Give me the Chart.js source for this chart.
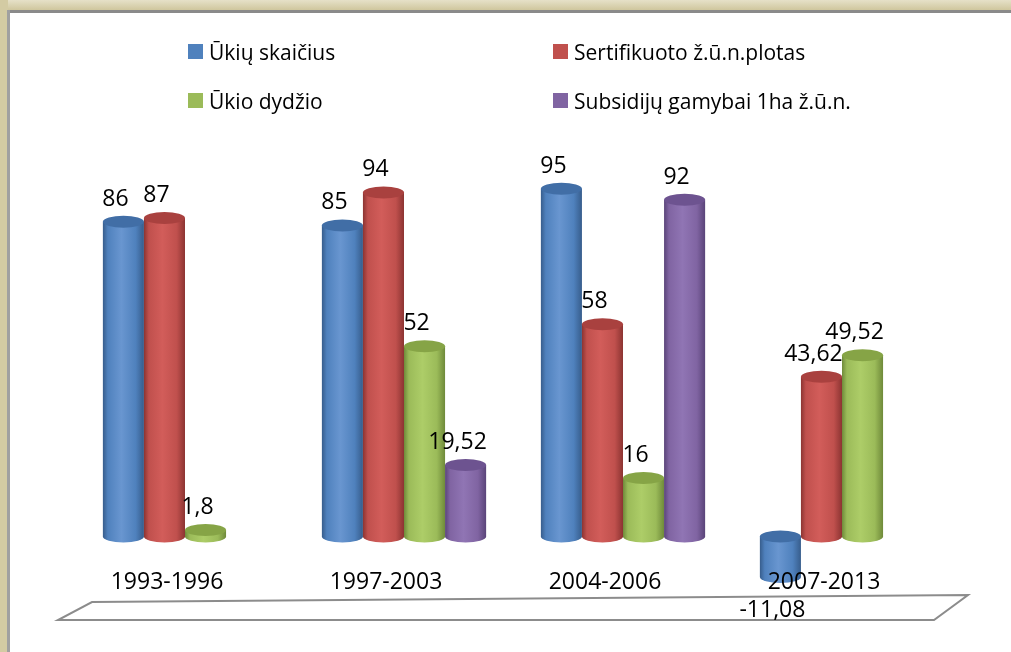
<!DOCTYPE html>
<html>
<head>
<meta charset="utf-8">
<script src="https://cdn.jsdelivr.net/npm/chart.js@4.4.1/dist/chart.umd.min.js"></script>
<style>
  html, body { margin: 0; padding: 0; background: #fff; }
  #wrap { width: 1011px; height: 652px; position: relative; }
</style>
</head>
<body>
<div id="wrap"><canvas id="chart" width="1011" height="652"></canvas></div>
<script>
// Data
const categories = ['1993-1996', '1997-2003', '2004-2006', '2007-2013'];
const seriesNames = ['Ūkių skaičius', 'Sertifikuoto ž.ū.n.plotas', 'Ūkio dydžio', 'Subsidijų gamybai 1ha ž.ū.n.'];
const farmCount = [86, 85, 95, -11.08];
const certifiedArea = [87, 94, 58, 43.62];
const farmSize = [1.8, 52, 16, 49.52];
const subsidies = [null, 19.52, 92, null];

// colours: base, dark edge, light, top
const palette = [
  { base: '#4f81bd', dark: '#375d8c', light: '#6996d0', top: '#416ea6' },
  { base: '#c0504d', dark: '#8c3432', light: '#d25d5a', top: '#a9413f' },
  { base: '#9bbb59', dark: '#6f8a3a', light: '#adcd68', top: '#86a446' },
  { base: '#8064a2', dark: '#5a4479', light: '#9075b4', top: '#6d5390' }
];

const FONT = '"Open Sans", "Noto Sans", sans-serif';

function fmt(v) {
  return String(v).replace('.', ',');
}

// frame + white plot background
const framePlugin = {
  id: 'frame',
  beforeDraw(chart) {
    const ctx = chart.ctx;
    const w = chart.width, h = chart.height;
    ctx.save();
    ctx.fillStyle = '#d3cba3';
    ctx.fillRect(0, 0, w, h);
    const g = ctx.createLinearGradient(0, 0, 0, 11);
    g.addColorStop(0, '#e6e1c8');
    g.addColorStop(1, '#cdc499');
    ctx.fillStyle = g;
    ctx.fillRect(8, 0, w, 11);
    ctx.fillStyle = '#8a8a8a';
    ctx.fillRect(7, 10, w, 3);
    ctx.fillStyle = '#a0a0a0';
    ctx.fillRect(7, 10, 3, h);
    ctx.fillStyle = '#ffffff';
    ctx.fillRect(10, 13, w, h);
    ctx.restore();
  }
};

// floor, legend, cylinders, labels
const decorPlugin = {
  id: 'decor',
  beforeDatasetsDraw(chart) {
    const ctx = chart.ctx;
    ctx.save();
    ctx.strokeStyle = '#8c8c8c';
    ctx.lineWidth = 2;
    ctx.beginPath();
    ctx.moveTo(92, 602);
    ctx.lineTo(968, 595);
    ctx.lineTo(934, 620);
    ctx.lineTo(58, 620);
    ctx.closePath();
    ctx.stroke();

    // legend in two columns
    ctx.font = '21px ' + FONT;
    ctx.textAlign = 'left';
    ctx.textBaseline = 'alphabetic';
    const spots = [[188, 44], [553, 44], [188, 93], [553, 93]];
    chart.data.datasets.forEach((ds, i) => {
      const [lx, ly] = spots[i];
      ctx.fillStyle = palette[i].base;
      ctx.fillRect(lx, ly, 15, 15);
      ctx.fillStyle = '#000';
      ctx.fillText(ds.label, lx + 21, ly + 16);
    });
    ctx.restore();
  },
  beforeDatasetDraw() {
    return false; // cylinders drawn below instead
  },
  afterDatasetsDraw(chart) {
    const ctx = chart.ctx;
    const ry = 6;
    ctx.save();
    chart.data.datasets.forEach((ds, di) => {
      const meta = chart.getDatasetMeta(di);
      const col = palette[di];
      meta.data.forEach((bar, i) => {
        const v = ds.data[i];
        if (v === null || v === undefined) return;
        const p = bar.getProps(['x', 'y', 'base', 'width'], true);
        const rx = p.width / 2;
        const left = p.x - rx, right = p.x + rx;
        const topY = Math.min(p.y, p.base);
        const botY = Math.max(p.y, p.base);
        const g = ctx.createLinearGradient(left, 0, right, 0);
        g.addColorStop(0, col.dark);
        g.addColorStop(0.12, col.base);
        g.addColorStop(0.45, col.light);
        g.addColorStop(0.8, col.base);
        g.addColorStop(1, col.dark);
        // body
        ctx.fillStyle = g;
        ctx.beginPath();
        ctx.moveTo(left, topY);
        ctx.lineTo(left, botY);
        ctx.ellipse(p.x, botY, rx, ry, 0, Math.PI, 0, true);
        ctx.lineTo(right, topY);
        ctx.closePath();
        ctx.fill();
        // top cap
        ctx.fillStyle = col.top;
        ctx.beginPath();
        ctx.ellipse(p.x, topY, rx, ry, 0, 0, Math.PI * 2);
        ctx.fill();

        // value label
        ctx.fillStyle = '#000';
        ctx.font = '23px ' + FONT;
        ctx.textAlign = 'center';
        ctx.textBaseline = 'alphabetic';
        if (v >= 0) {
          ctx.fillText(fmt(v), p.x - 8, p.y - 16);
        } else {
          ctx.fillText(fmt(v), p.x - 8, p.y + 40);
        }
      });
    });

    // category labels sit on top of the bars
    ctx.fillStyle = '#000';
    ctx.font = '23px ' + FONT;
    ctx.textAlign = 'center';
    ctx.textBaseline = 'alphabetic';
    const xs = chart.scales.x;
    categories.forEach((c, i) => {
      ctx.fillText(c, xs.getPixelForValue(i) - 18, 589);
    });
    ctx.restore();
  }
};

new Chart(document.getElementById('chart'), {
  type: 'bar',
  data: {
    labels: categories,
    datasets: [
      { label: seriesNames[0], data: farmCount, backgroundColor: palette[0].base },
      { label: seriesNames[1], data: certifiedArea, backgroundColor: palette[1].base },
      { label: seriesNames[2], data: farmSize, backgroundColor: palette[2].base },
      { label: seriesNames[3], data: subsidies, backgroundColor: palette[3].base }
    ]
  },
  options: {
    responsive: false,
    animation: false,
    layout: { padding: { left: 75.5, right: 59.5, top: 170.5, bottom: 42.3 } },
    datasets: { bar: { categoryPercentage: 0.75, barPercentage: 1 } },
    plugins: { legend: { display: false }, tooltip: { enabled: false } },
    scales: {
      x: { display: false },
      y: { display: false, min: -20, max: 100 }
    }
  },
  plugins: [framePlugin, decorPlugin]
});
</script>
</body>
</html>
